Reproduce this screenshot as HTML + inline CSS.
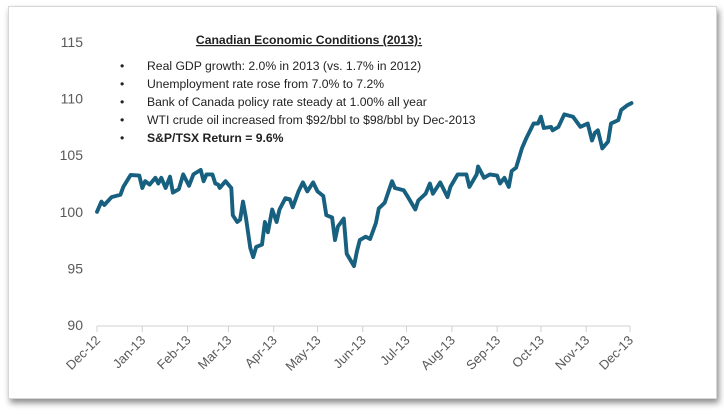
<!DOCTYPE html>
<html><head><meta charset="utf-8"><style>
html,body{margin:0;padding:0;background:#fff;width:724px;height:418px;overflow:hidden;font-family:"Liberation Sans",sans-serif}
#card{position:absolute;left:8px;top:6px;width:707px;height:391px;background:#fff;border:1px solid #d6d6d6;box-shadow:2px 4px 6px rgba(0,0,0,0.45)}
svg{position:absolute;left:0;top:0}
</style></head><body>
<div id="card"></div>
<svg width="724" height="418">
<g id="grid"></g>
<g id="ann" font-size="12.2" fill="#222">
<text x="309" y="44" text-anchor="middle" font-weight="bold" text-decoration="underline">Canadian Economic Conditions (2013):</text>
<g>
<text x="120" y="70">•</text><text x="147" y="70">Real GDP growth: 2.0% in 2013 (vs. 1.7% in 2012)</text>
<text x="120" y="88">•</text><text x="147" y="88">Unemployment rate rose from 7.0% to 7.2%</text>
<text x="120" y="106">•</text><text x="147" y="106">Bank of Canada policy rate steady at 1.00% all year</text>
<text x="120" y="124">•</text><text x="147" y="124">WTI crude oil increased from $92/bbl to $98/bbl by Dec-2013</text>
<text x="120" y="142">•</text><text x="147" y="142" font-weight="bold">S&amp;P/TSX Return = 9.6%</text>
</g></g>
<g id="plot"></g>
</svg>
<script>
const yTicks=[90,95,100,105,110,115];
const monthLabels=["Dec-12","Jan-13","Feb-13","Mar-13","Apr-13","May-13","Jun-13","Jul-13","Aug-13","Sep-13","Oct-13","Nov-13","Dec-13"];
const monthDays=[0,31,62,90,121,151,182,212,243,274,304,335,365];
const days=[0,3,5,10,16,18,23,29,31,33,36,40,42,44,47,50,52,56,59,63,66,71,73,75,79,81,83,84,88,92,93,96,98,100,102,105,107,109,113,115,117,120,123,125,129,132,134,138,141,144,148,151,155,157,161,163,165,169,171,176,178,180,184,187,191,193,197,202,204,210,213,218,220,225,228,230,235,240,242,247,253,255,260,261,265,269,274,276,279,282,284,287,291,294,299,302,304,306,311,312,316,320,326,331,336,339,341,343,346,350,352,357,359,363,366];
const values=[100.0,100.9,100.6,101.3,101.5,102.2,103.25,103.2,102.1,102.7,102.4,103.0,102.5,103.0,102.1,103.1,101.7,102.0,103.3,102.3,103.3,103.7,102.7,103.3,103.3,102.5,102.4,102.1,102.7,102.1,99.7,99.1,99.3,100.9,99.5,96.8,96.0,96.9,97.1,99.1,98.2,100.2,99.1,100.2,101.2,101.1,100.4,101.8,102.6,101.8,102.6,101.8,101.4,99.7,99.5,97.5,98.7,99.4,96.3,95.2,96.5,97.5,97.8,97.6,99.0,100.3,100.8,102.7,102.1,101.9,101.3,100.2,101.0,101.6,102.5,101.6,102.6,101.3,102.2,103.3,103.3,102.2,103.3,104.0,103.0,103.3,103.2,102.5,103.0,102.2,103.6,103.9,105.6,106.5,107.8,107.8,108.4,107.4,107.5,107.2,107.5,108.6,108.4,107.5,107.8,106.3,107.0,107.2,105.6,106.2,107.8,108.1,109.0,109.4,109.6];
const NS="http://www.w3.org/2000/svg";
const X0=97,X1=630,Y0=325,YT=42;
const xs=d=>X0+d/365*(X1-X0);
const ys=v=>Y0-(v-90)/25*(Y0-YT);
function mk(t,a,p){const e=document.createElementNS(NS,t);for(const k in a)e.setAttribute(k,a[k]);p.appendChild(e);return e;}
const grid=document.getElementById('grid'),plot=document.getElementById('plot');
yTicks.forEach(t=>{const e=mk('text',{x:83,y:ys(t)+5,'text-anchor':'end','font-size':'14',fill:'#595959'},grid);e.textContent=t;

});
const ax=mk('line',{x1:X0,x2:X1,y1:Y0+1,y2:Y0+1,stroke:'#d0d0d0','stroke-width':1},grid);


monthDays.forEach((d,i)=>{const x=xs(d);
const tk=mk('line',{x1:x,x2:x,y1:Y0+1,y2:Y0+7,stroke:'#d0d0d0'},grid);


const e=mk('text',{x:x+4,y:Y0+16,'text-anchor':'end','font-size':'13',fill:'#595959',transform:`rotate(-45 ${x+4} ${Y0+16})`},grid);e.textContent=monthLabels[i];

});
let dstr=days.map((d,i)=>(i?'L':'M')+xs(d).toFixed(1)+','+ys(values[i]).toFixed(1)).join(' ');
const ln=mk('path',{d:dstr,fill:'none',stroke:'#17607f','stroke-width':3.9,'stroke-linejoin':'round','stroke-linecap':'round'},plot);


</script>
</body></html>
